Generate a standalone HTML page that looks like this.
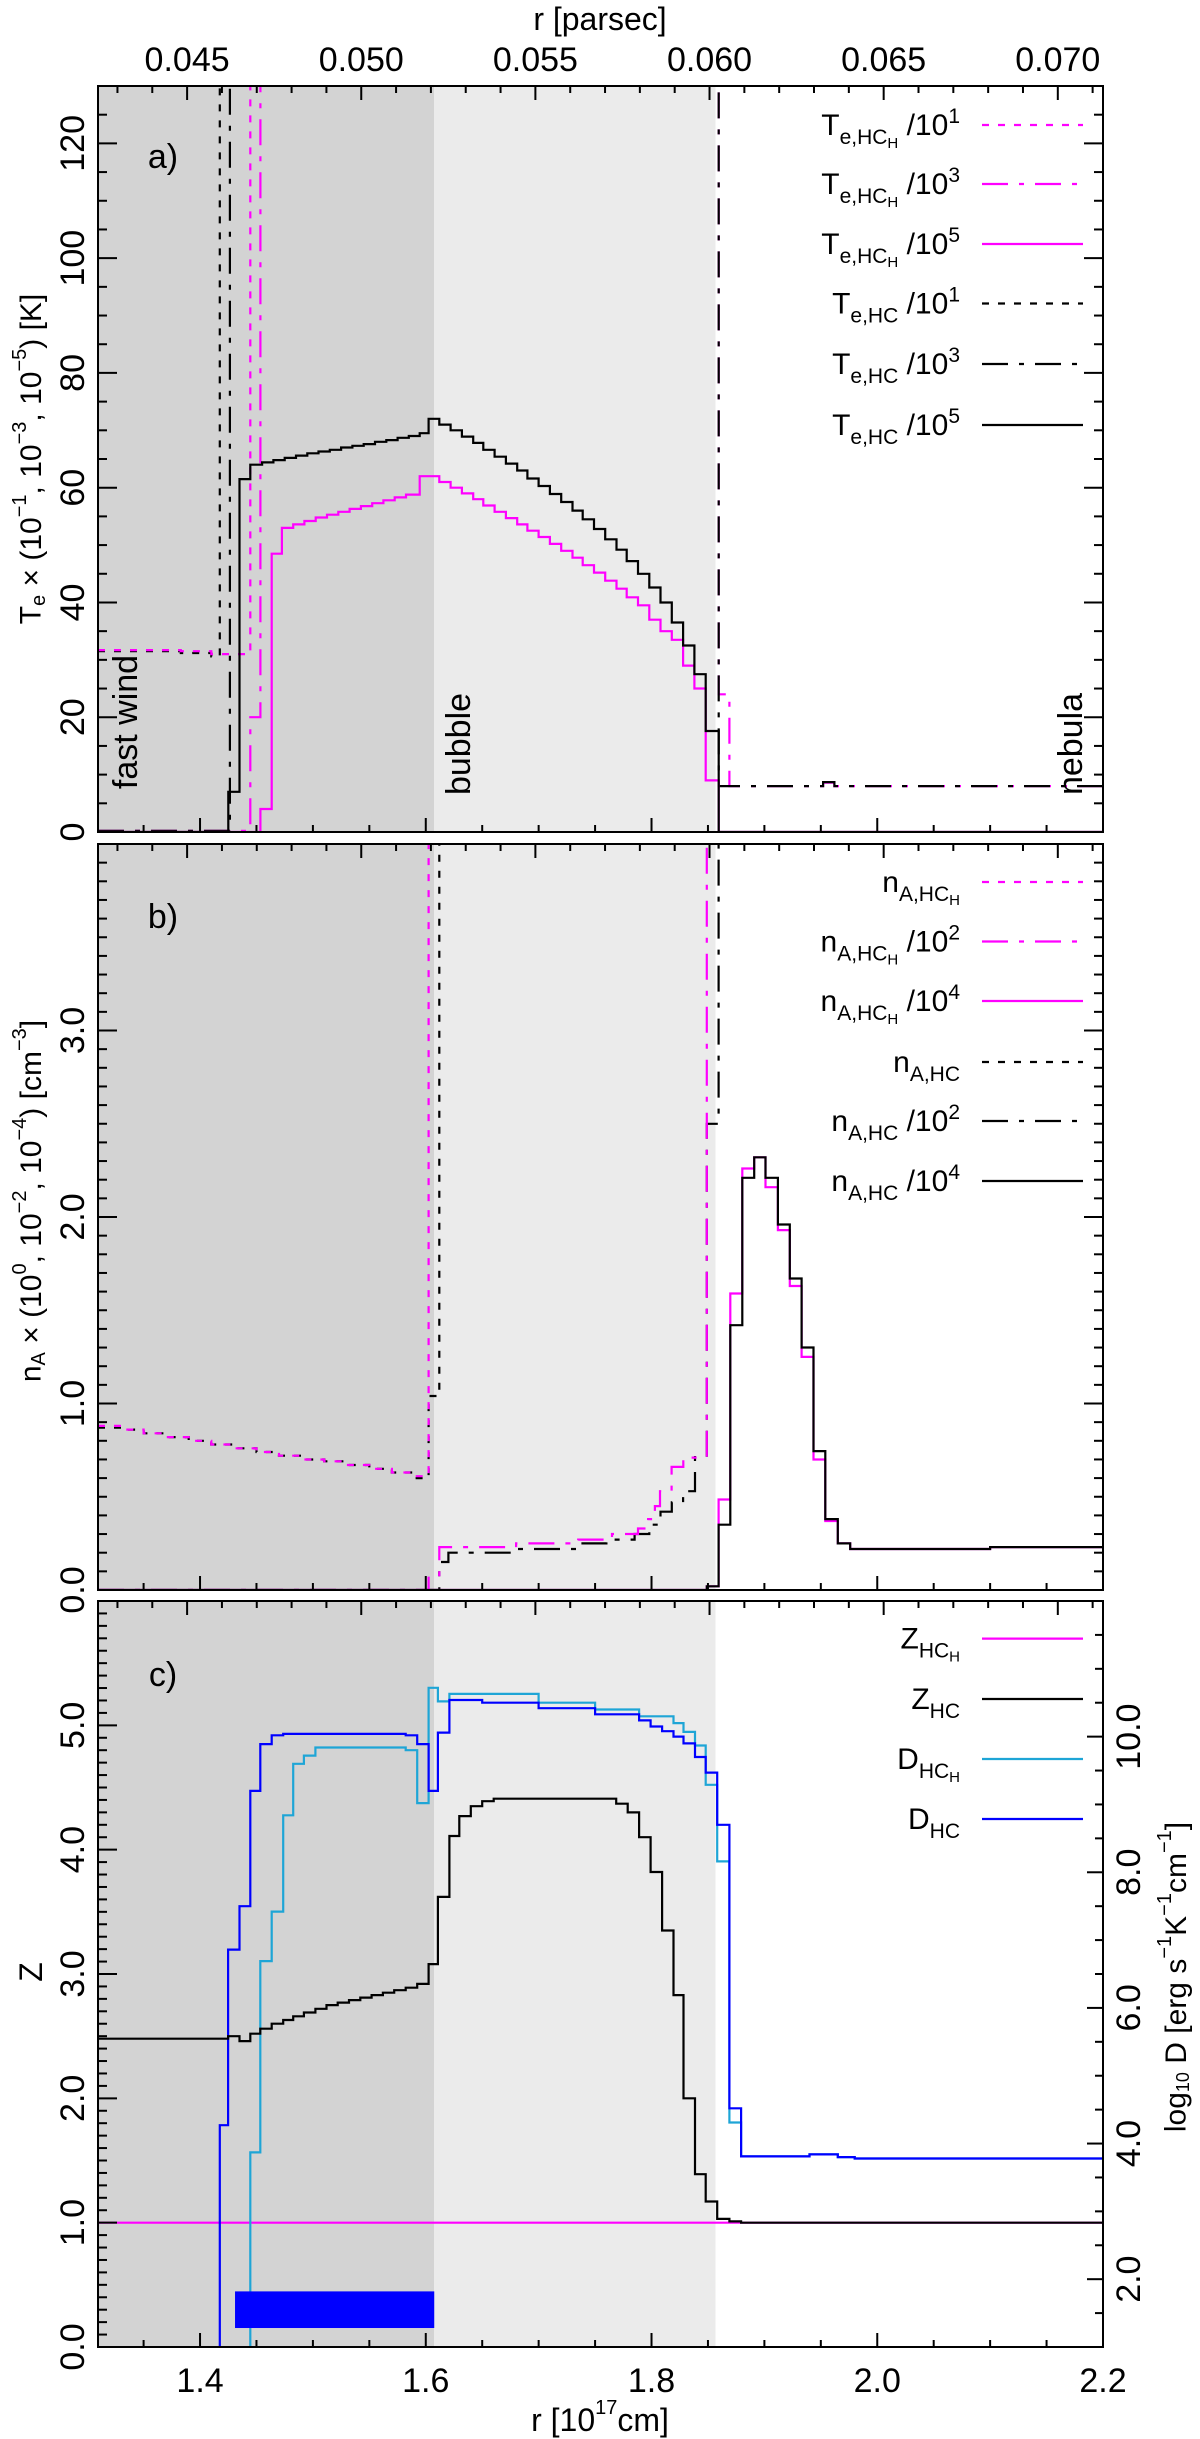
<!DOCTYPE html>
<html><head><meta charset="utf-8">
<style>
html,body{margin:0;padding:0;background:#fff;}
svg{display:block;font-family:"Liberation Sans",Arial,sans-serif;}
</style></head>
<body>
<svg id="fig" xmlns="http://www.w3.org/2000/svg" width="1200" height="2439" viewBox="0 0 1200 2439"></svg>
<script>
// ---------- shared axis ----------
const xMin = 1.3096, xMax = 2.2;
const xTicksMajor = [1.4, 1.6, 1.8, 2.0, 2.2];
const xTickLabels = ["1.4", "1.6", "1.8", "2.0", "2.2"];
const pcTicksMajor = [0.045, 0.050, 0.055, 0.060, 0.065, 0.070];
const pcTickLabels = ["0.045", "0.050", "0.055", "0.060", "0.065", "0.070"];
const pcPerCm17 = 0.032408;
const regionDarkEnd = 1.6075, regionLightEnd = 1.8567;

// ---------- panel a data (Te) ----------
const aYTicks = [0, 20, 40, 60, 80, 100, 120];
const aYLabels = ["0", "20", "40", "60", "80", "100", "120"];
const aHCr = [1.3096,1.425,1.435,1.4445,1.455,1.465,1.475,1.485,1.495,1.505,1.515,1.525,1.535,1.545,1.555,1.565,1.575,1.585,1.5946,1.6025,1.612,1.622,1.632,1.642,1.651,1.661,1.671,1.681,1.690,1.700,1.710,1.720,1.730,1.739,1.749,1.759,1.769,1.778,1.788,1.798,1.808,1.818,1.828,1.838,1.848,1.8595];
const aHC5 = [0,7,61.5,64,64.4,64.8,65.2,65.6,66,66.3,66.6,67,67.3,67.6,68,68.3,68.7,69,69.5,72,71,70,68.9,67.8,66.6,65.4,64.2,63,61.6,60.3,58.9,57.5,56,54.5,52.8,51,49.2,47.2,45,42.6,40,36.5,32.5,27.5,17.6,0];
const aHCHr = [1.3096,1.4535,1.4635,1.4725,1.4825,1.4925,1.5025,1.5125,1.5225,1.5325,1.5425,1.5525,1.5625,1.5725,1.5825,1.5946,1.612,1.622,1.632,1.642,1.651,1.661,1.671,1.681,1.690,1.700,1.710,1.720,1.730,1.739,1.749,1.759,1.769,1.778,1.788,1.798,1.808,1.818,1.828,1.838,1.848,1.8595];
const aHCH5 = [0,4,48.5,53,53.6,54.2,54.8,55.3,55.8,56.3,56.8,57.3,57.8,58.3,58.8,62,61,60,59,58,56.9,55.8,54.7,53.6,52.5,51.4,50.2,49,47.8,46.5,45.2,43.8,42.4,40.9,39.5,37,35,33.5,29,25,9,0];
const aHCH1r = [1.3096,1.383,1.41,1.4445];
const aHCH1 = [31.7,31.5,31,999];
const aHC1r = [1.3096,1.383,1.41,1.4175];
const aHC1 = [31.5,31.2,30.6,999];
const aHCH3r = [1.3096,1.4445,1.4535,1.8595,1.869,1.952,1.962];
const aHCH3 = [0.2,20,999,24,8,8.6,8];
const aHC3r = [1.3096,1.4265,1.8595,1.869,1.952,1.962];
const aHC3 = [0.2,999,8,8,8.7,8];

// ---------- panel b data (nA) ----------
const bYTicks = [0, 1, 2, 3];
const bYLabels = ["0.0", "1.0", "2.0", "3.0"];
const bDotr = [1.3096,1.33,1.35,1.37,1.39,1.41,1.43,1.45,1.47,1.49,1.51,1.53,1.55,1.57,1.59,1.6025];
const bHCHdot = [0.88,0.86,0.84,0.82,0.8,0.78,0.76,0.74,0.72,0.7,0.69,0.67,0.65,0.63,0.61,999];
const bHCdotr = [1.3096,1.33,1.35,1.37,1.39,1.41,1.43,1.45,1.47,1.49,1.51,1.53,1.55,1.57,1.59,1.6025,1.612];
const bHCdot = [0.87,0.86,0.84,0.82,0.8,0.78,0.76,0.74,0.72,0.7,0.69,0.67,0.65,0.63,0.6,1.04,999];
const bHCH2r = [1.3096,1.6025,1.612,1.68,1.735,1.765,1.788,1.797,1.803,1.8075,1.8178,1.8282,1.849];
const bHCH2 = [0,0.08,0.23,0.25,0.27,0.3,0.33,0.38,0.45,0.53,0.66,0.71,999];
const bHC2r = [1.3096,1.612,1.62,1.68,1.735,1.76,1.785,1.798,1.808,1.818,1.828,1.8385,1.849,1.8594];
const bHC2 = [0,0.15,0.2,0.22,0.25,0.27,0.3,0.35,0.42,0.47,0.53,0.72,2.5,999];
const b4r = [1.3096,1.849,1.8594,1.8698,1.8804,1.891,1.901,1.912,1.9225,1.933,1.9435,1.954,1.965,1.976,2.1];
const bHC4 = [0,0.02,0.35,1.42,2.21,2.32,2.21,1.96,1.67,1.30,0.745,0.38,0.25,0.22,0.23];
const bHCH4 = [0,0.02,0.485,1.59,2.26,2.32,2.16,1.93,1.63,1.25,0.70,0.37,0.25,0.22,0.23];

// ---------- panel c data (Z, D) ----------
const cZTicks = [0, 1, 2, 3, 4, 5];
const cZLabels = ["0.0", "1.0", "2.0", "3.0", "4.0", "5.0"];
const cDTicks = [2, 4, 6, 8, 10];
const cDLabels = ["2.0", "4.0", "6.0", "8.0", "10.0"];
const cZHCr = [1.3096,1.4249,1.435,1.4445,1.4534,1.4635,1.4737,1.4825,1.492,1.5022,1.512,1.522,1.532,1.542,1.552,1.562,1.572,1.5822,1.5924,1.6025,1.6107,1.6209,1.6297,1.6399,1.65,1.6602,1.7687,1.7789,1.789,1.7992,1.8094,1.8195,1.8283,1.8385,1.848,1.8582,1.869,1.8794];
const cZHC = [2.48,2.5,2.46,2.52,2.56,2.6,2.63,2.66,2.69,2.72,2.75,2.77,2.79,2.81,2.83,2.85,2.87,2.89,2.92,3.08,3.62,4.11,4.27,4.35,4.39,4.41,4.37,4.3,4.1,3.82,3.35,2.83,2.0,1.39,1.17,1.03,1.01,1.0];
const cZHCHr = [1.3096];
const cZHCH = [1.0];
const cDHCr = [1.3096,1.4175,1.4249,1.435,1.4445,1.4534,1.4635,1.4737,1.5822,1.5924,1.6025,1.6107,1.6209,1.65,1.70,1.75,1.789,1.7992,1.8094,1.8195,1.8283,1.8385,1.848,1.8582,1.869,1.8794,1.94,1.965,1.98];
const cDHC = [0,4.27,6.86,7.5,9.2,9.89,10.02,10.04,10.02,9.89,9.2,10.06,10.54,10.5,10.42,10.33,10.24,10.15,10.08,10.0,9.9,9.7,9.47,8.7,4.52,3.81,3.84,3.8,3.78];
const cDHCHr = [1.3096,1.4445,1.4534,1.4635,1.4737,1.4825,1.492,1.5022,1.5822,1.5924,1.6025,1.6107,1.6209,1.70,1.75,1.789,1.8195,1.8283,1.8385,1.848,1.8582,1.869,1.8794,1.94,1.965,1.98];
const cDHCH = [0,3.87,6.69,7.42,8.84,9.6,9.72,9.84,9.8,9.02,10.72,10.52,10.63,10.5,10.4,10.3,10.2,10.07,9.87,9.29,8.16,4.31,3.81,3.84,3.8,3.78];
const cBarR = [1.431, 1.6075];
const cBarD = [1.28, 1.82];

// ---------- layout ----------
const L = 98, R = 1103;
const panels = {
  a: {top: 86, bot: 832, ymin: 0, ymax: 130},
  b: {top: 844, bot: 1590, ymin: 0, ymax: 4.0},
  c: {top: 1601, bot: 2347, ymin: 0, ymax: 6.0, y2min: 1, y2max: 12}
};
const NS = "http://www.w3.org/2000/svg";
const svg = document.getElementById("fig");
const MAG = "#ff00ff", BLK = "#000000", CYAN = "#1ea5d6", BLUE = "#0000ff";
const DOT = "7,9", DASHDOT = "26,11,5,11";

function X(r){ return L + (r - xMin) / (xMax - xMin) * (R - L); }
function Yf(p){ return v => p.bot - (v - p.ymin) / (p.ymax - p.ymin) * (p.bot - p.top); }
function Y2f(p){ return v => p.bot - (v - p.y2min) / (p.y2max - p.y2min) * (p.bot - p.top); }
function mk(tag, attrs, parent){
  const e = document.createElementNS(NS, tag);
  for (const k in attrs) e.setAttribute(k, attrs[k]);
  (parent || svg).appendChild(e);
  return e;
}

function stepPath(rs, vs, yfun){
  let d = "";
  for (let i = 0; i < rs.length; i++){
    const v = Math.max(-50, Math.min(vs[i], 1e6));
    let yy = yfun(v);
    yy = Math.max(-500, Math.min(yy, 3000));
    const x0 = X(rs[i]);
    const x1 = i + 1 < rs.length ? X(rs[i+1]) : R;
    if (i === 0) d += "M" + x0.toFixed(1) + " " + yy.toFixed(1);
    else d += " V" + yy.toFixed(1);
    d += " H" + x1.toFixed(1);
  }
  return d;
}

function drawSeries(g, name, rs, vs, yfun, color, dash, clipId){
  const p = mk("path", {d: stepPath(rs, vs, yfun), fill: "none", stroke: color, "stroke-width": 2.2, "clip-path": "url(#" + clipId + ")"}, g);
  if (dash) p.setAttribute("stroke-dasharray", dash);
  
  
  return p;
}

const defs = mk("defs", {});

function drawPanel(key, p){
  const g = mk("g", {});
  
  
  const cp = mk("clipPath", {id: "clip-" + key}, defs);
  mk("rect", {x: L, y: p.top, width: R - L, height: p.bot - p.top}, cp);
  const dark = mk("rect", {x: L, y: p.top, width: X(regionDarkEnd) - L, height: p.bot - p.top, fill: "#d3d3d3"}, g);
  
  
  const light = mk("rect", {x: X(regionDarkEnd), y: p.top, width: X(regionLightEnd) - X(regionDarkEnd), height: p.bot - p.top, fill: "#ebebeb"}, g);
  
  
  return g;
}

function drawFrame(key, p, yTicks, yLabels, yMinorStep, rightAxis){
  const g = mk("g", {stroke: "#000", "stroke-width": 2, fill: "none"});
  
  
  const yfun = Yf(p);
  for (let r = 1.35; r <= 2.2001; r += 0.05){
    const maj = xTicksMajor.some(t => Math.abs(t - r) < 1e-6);
    const len = maj ? 14 : 7;
    const x = X(r);
    mk("line", {x1: x, x2: x, y1: p.bot, y2: p.bot - len}, g);
  }
  for (let k = 43; k <= 71; k++){
    const pc = k / 1000;
    const maj = k % 5 === 0;
    const len = maj ? 14 : 7;
    const x = X(pc / pcPerCm17);
    if (x < L || x > R) continue;
    mk("line", {x1: x, x2: x, y1: p.top, y2: p.top + len}, g);
  }
  for (let v = p.ymin; v <= p.ymax + 1e-9; v += yMinorStep){
    const maj = yTicks.some(t => Math.abs(t - v) < 1e-6);
    const len = maj ? 19 : 9;
    const y = yfun(v);
    mk("line", {x1: L, x2: L + len, y1: y, y2: y}, g);
    if (!rightAxis) mk("line", {x1: R, x2: R - len, y1: y, y2: y}, g);
  }
  if (rightAxis){
    const y2 = Y2f(p);
    for (let v = p.y2min; v <= p.y2max + 1e-9; v += 0.5){
      const maj = Math.abs(v - Math.round(v)) < 1e-6 && Math.round(v) % 2 === 0;
      const len = maj ? 16 : 8;
      const y = y2(v);
      mk("line", {x1: R, x2: R - len, y1: y, y2: y}, g);
    }
  }
  const fr = mk("rect", {x: L, y: p.top, width: R - L, height: p.bot - p.top}, g);
  
  
  for (let i = 0; i < yTicks.length; i++){
    const y = yfun(yTicks[i]);
    const t = mk("text", {x: 0, y: 0, transform: "translate(73," + y + ") rotate(-90)", "text-anchor": "middle", "dominant-baseline": "central", "font-size": 34, fill: "#000"});
    t.textContent = yLabels[i];
    
    
  }
}

function legendRow(y, parts, color, dash, nameStr){
  const t = mk("text", {x: 960, y: y + 10, "text-anchor": "end", "font-size": 30, fill: "#000"});
  
  
  for (const pt of parts){
    const s = mk("tspan", {}, t);
    if (pt[1] === "sub") { s.setAttribute("font-size", 21); s.setAttribute("dy", 9); }
    else if (pt[1] === "subsub") { s.setAttribute("font-size", 15); s.setAttribute("dy", 4); }
    else if (pt[1] === "sup") { s.setAttribute("font-size", 21); s.setAttribute("dy", pt[2]); }
    else if (pt[1] === "norm") { s.setAttribute("dy", pt[2] || 0); }
    s.textContent = pt[0];
  }
  const ln = mk("line", {x1: 982, x2: 1083, y1: y, y2: y, stroke: color, "stroke-width": 2.2});
  if (dash) ln.setAttribute("stroke-dasharray", dash);
  
  
}

function textAt(x, y, str, size, name, rot, anchor){
  const t = mk("text", {x: 0, y: 0, transform: "translate(" + x + "," + y + ")" + (rot ? " rotate(" + rot + ")" : ""), "text-anchor": anchor || "middle", "dominant-baseline": "central", "font-size": size, fill: "#000"});
  t.textContent = str;
  
  
  return t;
}

// ===== Panel a =====
(function(){
  const p = panels.a, yf = Yf(p);
  const g = drawPanel("a", p);
  drawSeries(g, "te-hc-1e1", aHC1r, aHC1, yf, BLK, DOT, "clip-a");
  drawSeries(g, "te-hch-1e1", aHCH1r, aHCH1, yf, MAG, DOT, "clip-a");
  drawSeries(g, "te-hch-1e3", aHCH3r, aHCH3, yf, MAG, DASHDOT, "clip-a");
  drawSeries(g, "te-hc-1e3", aHC3r, aHC3, yf, BLK, DASHDOT, "clip-a");
  drawSeries(g, "te-hch-1e5", aHCHr, aHCH5, yf, MAG, null, "clip-a");
  drawSeries(g, "te-hc-1e5", aHCr, aHC5, yf, BLK, null, "clip-a");
  drawFrame("a", p, aYTicks, aYLabels, 5, false);
  textAt(163, 157, "a)", 34, "panel-a-label");
  textAt(126, 722, "fast wind", 34, "fast-wind-label", -90);
  textAt(459, 744, "bubble", 34, "bubble-label", -90);
  textAt(1071, 744, "nebula", 34, "nebula-label", -90);
  const rows = [125, 184, 244, 303.5, 364, 425];
  const defsL = [
    [[["T","n"],["e,HC","sub"],["H","subsub"],[" /10","norm",-13],["1","sup",-12]], MAG, DOT, "te-hch-1e1"],
    [[["T","n"],["e,HC","sub"],["H","subsub"],[" /10","norm",-13],["3","sup",-12]], MAG, DASHDOT, "te-hch-1e3"],
    [[["T","n"],["e,HC","sub"],["H","subsub"],[" /10","norm",-13],["5","sup",-12]], MAG, null, "te-hch-1e5"],
    [[["T","n"],["e,HC","sub"],[" /10","norm",-9],["1","sup",-12]], BLK, DOT, "te-hc-1e1"],
    [[["T","n"],["e,HC","sub"],[" /10","norm",-9],["3","sup",-12]], BLK, DASHDOT, "te-hc-1e3"],
    [[["T","n"],["e,HC","sub"],[" /10","norm",-9],["5","sup",-12]], BLK, null, "te-hc-1e5"]
  ];
  defsL.forEach((d, i) => legendRow(rows[i], d[0], d[1], d[2], d[3]));
  const t = mk("text", {x: 0, y: 0, transform: "translate(31,459) rotate(-90)", "text-anchor": "middle", "dominant-baseline": "central", "font-size": 30, fill: "#000"});
  
  
  t.innerHTML = 'T<tspan font-size="20" dy="8">e</tspan><tspan dy="-8"> × (10</tspan><tspan font-size="20" dy="-11">−1</tspan><tspan dy="11">, 10</tspan><tspan font-size="20" dy="-11">−3</tspan><tspan dy="11">, 10</tspan><tspan font-size="20" dy="-11">−5</tspan><tspan dy="11">) [K]</tspan>';
})();

// ===== Panel b =====
(function(){
  const p = panels.b, yf = Yf(p);
  const g = drawPanel("b", p);
  drawSeries(g, "na-hc", bHCdotr, bHCdot, yf, BLK, DOT, "clip-b");
  drawSeries(g, "na-hch", bDotr, bHCHdot, yf, MAG, DOT, "clip-b");
  drawSeries(g, "na-hc-1e2", bHC2r, bHC2, yf, BLK, DASHDOT, "clip-b");
  drawSeries(g, "na-hch-1e2", bHCH2r, bHCH2, yf, MAG, DASHDOT, "clip-b");
  drawSeries(g, "na-hch-1e4", b4r, bHCH4, yf, MAG, null, "clip-b");
  drawSeries(g, "na-hc-1e4", b4r, bHC4, yf, BLK, null, "clip-b");
  drawFrame("b", p, bYTicks, bYLabels, 0.1, false);
  textAt(163, 917, "b)", 34, "panel-b-label");
  const rows = [882, 941.5, 1001, 1062, 1121, 1181];
  const defsL = [
    [[["n","n"],["A,HC","sub"],["H","subsub"]], MAG, DOT, "na-hch"],
    [[["n","n"],["A,HC","sub"],["H","subsub"],[" /10","norm",-13],["2","sup",-12]], MAG, DASHDOT, "na-hch-1e2"],
    [[["n","n"],["A,HC","sub"],["H","subsub"],[" /10","norm",-13],["4","sup",-12]], MAG, null, "na-hch-1e4"],
    [[["n","n"],["A,HC","sub"]], BLK, DOT, "na-hc"],
    [[["n","n"],["A,HC","sub"],[" /10","norm",-9],["2","sup",-12]], BLK, DASHDOT, "na-hc-1e2"],
    [[["n","n"],["A,HC","sub"],[" /10","norm",-9],["4","sup",-12]], BLK, null, "na-hc-1e4"]
  ];
  defsL.forEach((d, i) => legendRow(rows[i], d[0], d[1], d[2], d[3]));
  const t = mk("text", {x: 0, y: 0, transform: "translate(31,1201) rotate(-90)", "text-anchor": "middle", "dominant-baseline": "central", "font-size": 30, fill: "#000"});
  
  
  t.innerHTML = 'n<tspan font-size="20" dy="8">A</tspan><tspan dy="-8"> × (10</tspan><tspan font-size="20" dy="-11">0</tspan><tspan dy="11">, 10</tspan><tspan font-size="20" dy="-11">−2</tspan><tspan dy="11">, 10</tspan><tspan font-size="20" dy="-11">−4</tspan><tspan dy="11">) [cm</tspan><tspan font-size="20" dy="-11">−3</tspan><tspan dy="11">]</tspan>';
})();

// ===== Panel c =====
(function(){
  const p = panels.c, yf = Yf(p), y2 = Y2f(p);
  const g = drawPanel("c", p);
  drawSeries(g, "z-hch", cZHCHr, cZHCH, yf, MAG, null, "clip-c");
  drawSeries(g, "d-hch", cDHCHr, cDHCH, y2, CYAN, null, "clip-c");
  drawSeries(g, "d-hc", cDHCr, cDHC, y2, BLUE, null, "clip-c");
  drawSeries(g, "z-hc", cZHCr, cZHC, yf, BLK, null, "clip-c");
  const bar = mk("rect", {x: X(cBarR[0]), y: y2(cBarD[1]), width: X(cBarR[1]) - X(cBarR[0]), height: y2(cBarD[0]) - y2(cBarD[1]), fill: BLUE}, g);
  
  
  drawFrame("c", p, cZTicks, cZLabels, 0.1, true);
  for (let i = 0; i < cDTicks.length; i++){
    textAt(1129, y2(cDTicks[i]), cDLabels[i], 34, "right-tick-label", -90);
  }
  textAt(163, 1675, "c)", 34, "panel-c-label");
  const rows = [1638.6, 1699, 1759, 1819];
  const defsL = [
    [[["Z","n"],["HC","sub"],["H","subsub"]], MAG, null, "z-hch"],
    [[["Z","n"],["HC","sub"]], BLK, null, "z-hc"],
    [[["D","n"],["HC","sub"],["H","subsub"]], CYAN, null, "d-hch"],
    [[["D","n"],["HC","sub"]], BLUE, null, "d-hc"]
  ];
  defsL.forEach((d, i) => legendRow(rows[i], d[0], d[1], d[2], d[3]));
  textAt(31, 1972, "Z", 32, "y-axis-title-c", -90);
  const t = mk("text", {x: 0, y: 0, transform: "translate(1176,1977) rotate(-90)", "text-anchor": "middle", "dominant-baseline": "central", "font-size": 30, fill: "#000"});
  
  
  t.innerHTML = 'log<tspan font-size="18" dy="7">10</tspan><tspan dy="-7"> D [erg s</tspan><tspan font-size="20" dy="-11">−1</tspan><tspan dy="11">K</tspan><tspan font-size="20" dy="-11">−1</tspan><tspan dy="11">cm</tspan><tspan font-size="20" dy="-11">−1</tspan><tspan dy="11">]</tspan>';
})();

// ===== x-axis labels =====
for (let i = 0; i < xTicksMajor.length; i++){
  textAt(X(xTicksMajor[i]), 2381, xTickLabels[i], 34, "x-tick-label");
}
for (let i = 0; i < pcTicksMajor.length; i++){
  textAt(X(pcTicksMajor[i] / pcPerCm17), 60, pcTickLabels[i], 34, "top-x-tick-label");
}
textAt(600, 19, "r [parsec]", 32, "top-x-axis-title");
(function(){
  const t = mk("text", {x: 600, y: 2420, "text-anchor": "middle", "dominant-baseline": "central", "font-size": 32, fill: "#000"});
  
  
  t.innerHTML = 'r [10<tspan font-size="20" dy="-12">17</tspan><tspan dy="12">cm]</tspan>';
})();
</script>
</body></html>
